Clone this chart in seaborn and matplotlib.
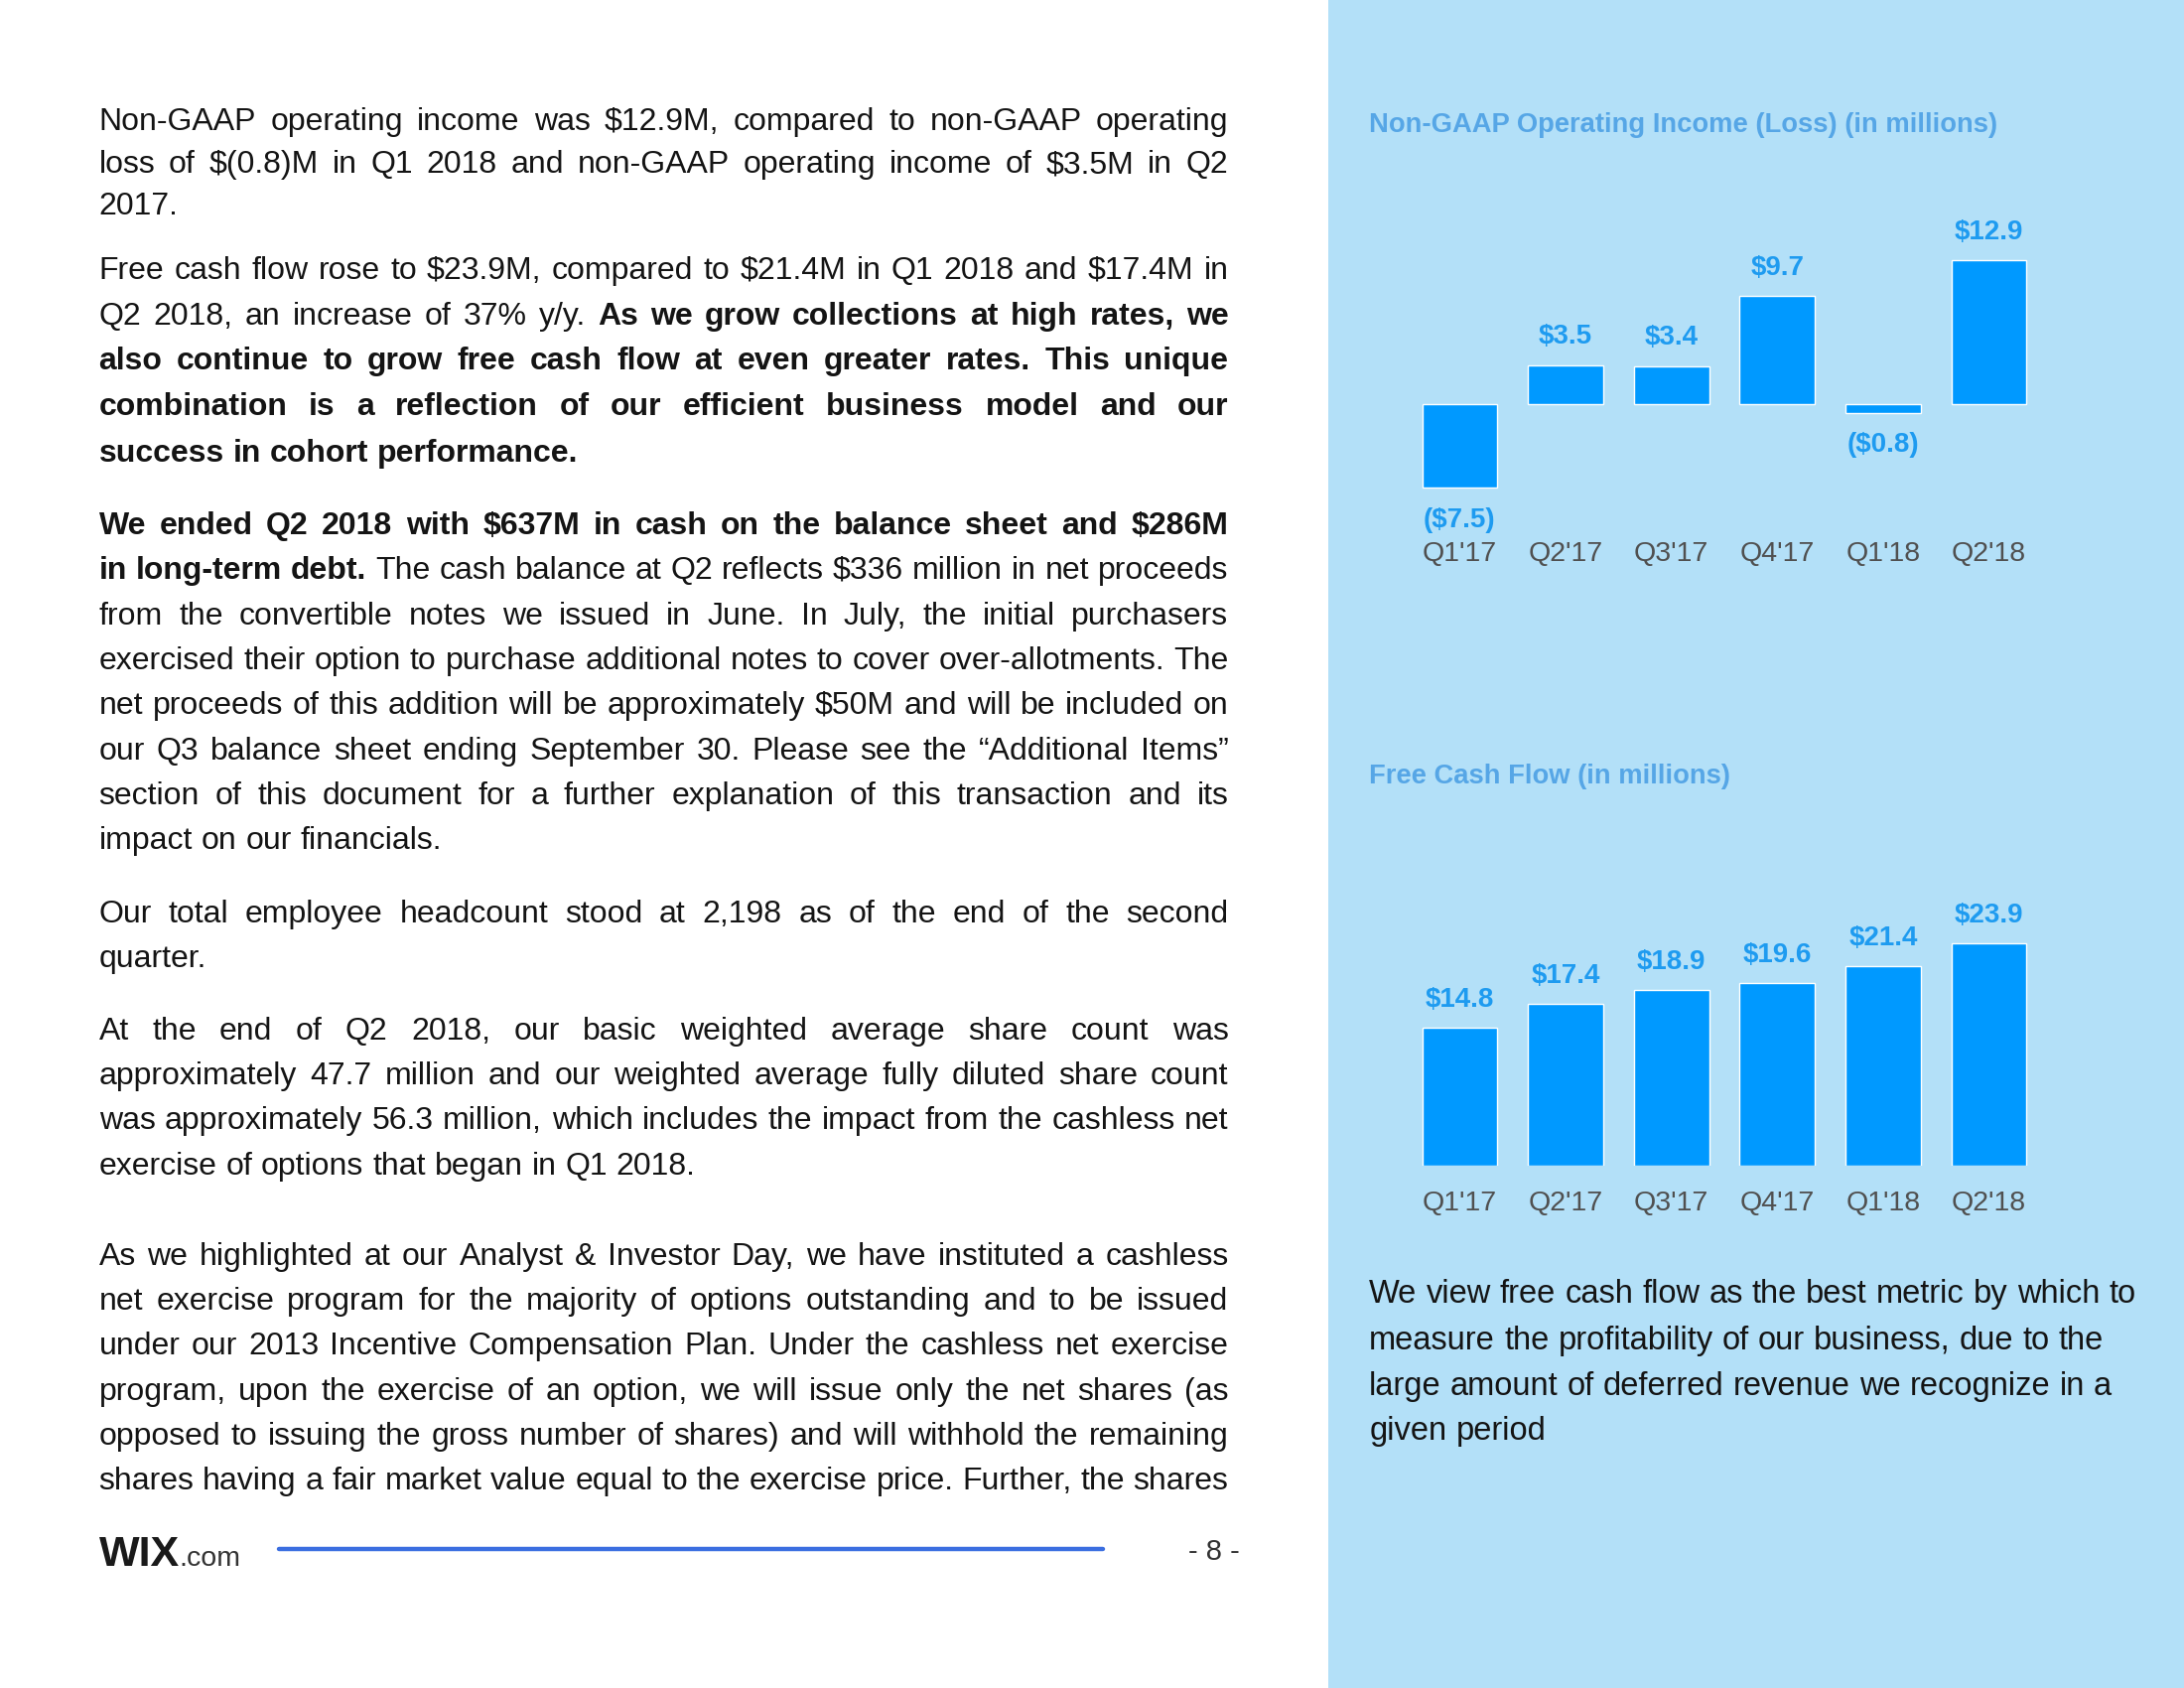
import matplotlib
matplotlib.use('Agg')
import matplotlib.pyplot as plt
import seaborn as sns
import pandas as pd
from matplotlib.patches import Rectangle
from matplotlib.lines import Line2D

# ---------------- data ----------------
quarters = ["Q1'17", "Q2'17", "Q3'17", "Q4'17", "Q1'18", "Q2'18"]
op_income = [-7.5, 3.5, 3.4, 9.7, -0.8, 12.9]
fcf = [14.8, 17.4, 18.9, 19.6, 21.4, 23.9]
op_title = "Non-GAAP Operating Income (Loss) (in millions)"
fcf_title = "Free Cash Flow (in millions)"

# body text: (y in reduced px, segments, justified); segment = (text, bold)
para_lines = [
    (85, [("Non-GAAP operating income was $12.9M, compared to non-GAAP operating", False)], True),
    (116, [("loss of $(0.8)M in Q1 2018 and non-GAAP operating income of $3.5M in Q2", False)], True),
    (146, [("2017.", False)], False),
    (192, [("Free cash flow rose to $23.9M, compared to $21.4M in Q1 2018 and $17.4M in", False)], True),
    (225, [("Q2 2018, an increase of 37% y/y.", False), ("As we grow collections at high rates, we", True)], True),
    (257, [("also continue to grow free cash flow at even greater rates. This unique", True)], True),
    (290, [("combination is a reflection of our efficient business model and our", True)], True),
    (323, [("success in cohort performance.", True)], False),
    (375, [("We ended Q2 2018 with $637M in cash on the balance sheet and $286M", True)], True),
    (407, [("in long-term debt.", True), ("The cash balance at Q2 reflects $336 million in net proceeds", False)], True),
    (440, [("from the convertible notes we issued in June. In July, the initial purchasers", False)], True),
    (472, [("exercised their option to purchase additional notes to cover over-allotments. The", False)], True),
    (504, [("net proceeds of this addition will be approximately $50M and will be included on", False)], True),
    (537, [("our Q3 balance sheet ending September 30. Please see the \u201cAdditional Items\u201d", False)], True),
    (569, [("section of this document for a further explanation of this transaction and its", False)], True),
    (601, [("impact on our financials.", False)], False),
    (654, [("Our total employee headcount stood at 2,198 as of the end of the second", False)], True),
    (686, [("quarter.", False)], False),
    (738, [("At the end of Q2 2018, our basic weighted average share count was", False)], True),
    (770, [("approximately 47.7 million and our weighted average fully diluted share count", False)], True),
    (802, [("was approximately 56.3 million, which includes the impact from the cashless net", False)], True),
    (835, [("exercise of options that began in Q1 2018.", False)], False),
    (900, [("As we highlighted at our Analyst & Investor Day, we have instituted a cashless", False)], True),
    (932, [("net exercise program for the majority of options outstanding and to be issued", False)], True),
    (964, [("under our 2013 Incentive Compensation Plan. Under the cashless net exercise", False)], True),
    (997, [("program, upon the exercise of an option, we will issue only the net shares (as", False)], True),
    (1029, [("opposed to issuing the gross number of shares) and will withhold the remaining", False)], True),
    (1061, [("shares having a fair market value equal to the exercise price. Further, the shares", False)], True),
]
side_lines = [
    (927, "We view free cash flow as the best metric by which to"),
    (960, "measure the profitability of our business, due to the"),
    (993, "large amount of deferred revenue we recognize in a"),
    (1025, "given period"),
]

# ---------------- setup ----------------
sns.set_theme(style='white')
plt.rcParams['font.family'] = ['Liberation Sans', 'DejaVu Sans']

W, H = 2200, 1700
R = 2200 / 1568.0
fig = plt.figure(figsize=(22, 17), dpi=100)
fig.patch.set_facecolor('white')

def fx(px):
    return px / W

def fy(py):
    return 1 - py / H

PANEL_BG = '#B3E0F8'
BAR = '#0099FF'
LABEL = '#1E9BF0'
TITLE = '#56A6E6'
TICK = '#505050'
TXT = '#141414'

fig.add_artist(Rectangle((fx(1338), 0), (W - 1338) / W, 1, transform=fig.transFigure,
                         facecolor=PANEL_BG, edgecolor='none', zorder=-5))

renderer = fig.canvas.get_renderer()

def tw(s, bold, size):
    t = fig.text(0, 0, s, fontsize=size, fontweight='bold' if bold else 'normal')
    w = t.get_window_extent(renderer).width
    t.remove()
    return w

def words_of(segs):
    out = []
    for text, bold in segs:
        for w in text.split():
            out.append((w, bold))
    return out

X0, X1 = 71 * R, 882 * R
# body size: widest justified line may squeeze its spaces to 45% of normal
size = 23.0
while size > 14:
    mx = 0
    sp = tw("a a", False, size) - tw("aa", False, size)
    for y, segs, just in para_lines:
        if not just:
            continue
        ws = words_of(segs)
        nat = sum(tw(w, b, size) for w, b in ws) + 0.45 * sp * (len(ws) - 1)
        mx = max(mx, nat)
    if mx <= (X1 - X0):
        break
    size -= 0.25
BODY = size

def draw_line(segs, ycen, justify, x0, x1, size, color=TXT):
    ws = words_of(segs)
    widths = [tw(w, b, size) for w, b in ws]
    sp = tw("a a", False, size) - tw("aa", False, size)
    if justify and len(ws) > 1:
        gap = (x1 - x0 - sum(widths)) / (len(ws) - 1)
    else:
        gap = sp
    x = x0
    base = ycen + size * 100 / 72 * 0.36
    for (w, b), wd in zip(ws, widths):
        fig.text(fx(x), fy(base), w, fontsize=size, fontweight='bold' if b else 'normal',
                 color=color, va='baseline', ha='left')
        x += wd + gap

for y, segs, just in para_lines:
    draw_line(segs, y * R, just, X0, X1, BODY)

for y, s in side_lines:
    draw_line([(s, False)], y * R, False, 983 * R, 2200, BODY + 0.5)

# ---------------- charts ----------------
spacing = 76 * R
c0 = 1048 * R
left = c0 - 0.5 * spacing
right = left + 6 * spacing

def fmt(v):
    return "${:.1f}".format(v) if v >= 0 else "(${:.1f})".format(-v)

def style_ax(ax, pad):
    for s in ax.spines.values():
        s.set_visible(False)
    ax.patch.set_alpha(0)
    ax.set_yticks([])
    ax.set_xlabel('')
    ax.set_ylabel('')
    ax.tick_params(axis='x', length=0, pad=pad, labelsize=20.5, labelcolor=TICK)
    ax.grid(False)

def add_labels(ax, values):
    cont = ax.containers[0]
    ax.bar_label(cont, labels=[fmt(v) if v >= 0 else '' for v in values], padding=11,
                 fontsize=20, fontweight='bold', color=LABEL)
    ax.bar_label(cont, labels=[fmt(v) if v < 0 else '' for v in values], padding=14,
                 fontsize=20, fontweight='bold', color=LABEL)

# top chart
zero1 = 290 * R
u1 = 8 * R
ylo1, yhi1 = -9, 15
top1 = zero1 - yhi1 * u1
bot1 = zero1 - ylo1 * u1
ax1 = fig.add_axes([fx(left), fy(bot1), (right - left) / W, (bot1 - top1) / H])
df1 = pd.DataFrame({'quarter': quarters, 'value': op_income})
sns.barplot(data=df1, x='quarter', y='value', ax=ax1, color=BAR, saturation=1,
            width=0.71, errorbar=None)
ax1.set_xlim(-0.5, 5.5)
ax1.set_ylim(ylo1, yhi1)
add_labels(ax1, op_income)
style_ax(ax1, pad=(396 * R - bot1 - 11) * 72 / 100)

# bottom chart
zero2 = 837 * R
u2 = 6.69 * R
ylo2, yhi2 = 0, 28
top2 = zero2 - yhi2 * u2
bot2 = zero2
ax2 = fig.add_axes([fx(left), fy(bot2), (right - left) / W, (bot2 - top2) / H])
df2 = pd.DataFrame({'quarter': quarters, 'value': fcf})
sns.barplot(data=df2, x='quarter', y='value', ax=ax2, color=BAR, saturation=1,
            width=0.71, errorbar=None)
ax2.set_xlim(-0.5, 5.5)
ax2.set_ylim(ylo2, yhi2)
add_labels(ax2, fcf)
style_ax(ax2, pad=(862 * R - bot2 - 10) * 72 / 100)

# titles
fig.text(fx(983 * R), fy(90 * R), op_title, fontsize=19.7, fontweight='bold', color=TITLE,
         va='center', ha='left')
fig.text(fx(983 * R), fy(557 * R), fcf_title, fontsize=19.7, fontweight='bold', color=TITLE,
         va='center', ha='left')

# ---------------- footer ----------------
fig.add_artist(Line2D([fx(200 * R), fx(792 * R)], [fy(1112 * R), fy(1112 * R)],
                      transform=fig.transFigure, color='#3B6EE0', linewidth=3.2))
fig.text(fx(890 * R), fy(1114 * R), "- 8 -", fontsize=21, color='#333333',
         ha='right', va='center')
fig.text(fx(71 * R), fy(1116 * R), "WIX", fontsize=31, fontweight='bold', color='#1a1a1a',
         ha='left', va='center')
wx = tw("WIX", True, 31)
fig.text(fx(71 * R) + wx / W, fy(1119 * R), ".com", fontsize=20.5, color='#333333',
         ha='left', va='center')

fig.savefig('out.png', dpi=100, facecolor='white')
